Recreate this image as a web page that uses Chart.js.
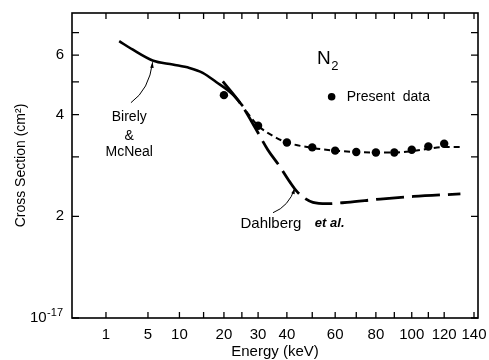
<!DOCTYPE html>
<html><head><meta charset="utf-8">
<script src="https://cdn.jsdelivr.net/npm/chart.js@4.4.0/dist/chart.umd.min.js"></script>
<style>html,body{margin:0;padding:0;background:#fff}</style>
</head><body>
<canvas id="c" width="489" height="360"></canvas>
<script>
// ---- data (energy in keV, cross section in units of 1e-17 cm^2) ----
const presentE = [20, 30, 40, 50, 60, 70, 80, 90, 100, 110, 120];
const presentV = [4.57, 3.71, 3.31, 3.20, 3.13, 3.10, 3.09, 3.09, 3.15, 3.22, 3.28];
const fitE = [26.3, 30, 35, 40, 50, 60, 70, 80, 90, 100, 110, 120, 130.7];
const fitV = [4.09, 3.71, 3.46, 3.31, 3.19, 3.13, 3.10, 3.09, 3.09, 3.12, 3.17, 3.21, 3.21];
const birelyE = [1.93, 3.17, 5.63, 8.78, 11.95, 14.8, 18.0, 22.4, 25.3];
const birelyV = [6.60, 6.24, 5.79, 5.63, 5.50, 5.32, 5.00, 4.59, 4.24];
const dahlbergE = [19.7, 25.2, 29.2, 33.2, 37.4, 41.1, 43.8, 47.0, 50.3, 56.3, 65.5, 82.3, 100.9, 130.7];
const dahlbergV = [5.02, 4.23, 3.64, 3.15, 2.81, 2.53, 2.37, 2.26, 2.20, 2.18, 2.20, 2.25, 2.29, 2.33];
const xTickValues = [1, 5, 10, 15, 20, 25, 30, 40, 50, 60, 70, 80, 90, 100, 110, 120, 140];
const xTickLabels = {1:'1', 5:'5', 10:'10', 20:'20', 30:'30', 40:'40', 60:'60', 80:'80', 100:'100', 120:'120', 140:'140'};
const yTickValues = [1, 2, 3, 4, 5, 6, 7];
const yTickLabels = {1:'', 2:'2', 4:'4', 6:'6'};
const xMaxE = 142.8;

const FONT = "'Liberation Sans', Arial, sans-serif";
const toPts = (E, V) => E.map((e, i) => ({x: Math.sqrt(e), y: V[i]}));

const framePlugin = {
  id: 'frame',
  afterDraw(chart) {
    const ctx = chart.ctx, a = chart.chartArea;
    const xs = chart.scales.x, ys = chart.scales.y;
    const P = (E, V) => [xs.getPixelForValue(Math.sqrt(E)), ys.getPixelForValue(V)];
    ctx.save();
    ctx.strokeStyle = '#000';
    ctx.lineWidth = 1.6;
    ctx.strokeRect(a.left, a.top, a.right - a.left, a.bottom - a.top);
    ctx.lineWidth = 1.3;
    ctx.beginPath();
    xTickValues.forEach(v => {
      const px = xs.getPixelForValue(Math.sqrt(v));
      ctx.moveTo(px, a.bottom); ctx.lineTo(px, a.bottom - 6);
      ctx.moveTo(px, a.top); ctx.lineTo(px, a.top + 6);
    });
    yTickValues.forEach(v => {
      const py = ys.getPixelForValue(v);
      ctx.moveTo(a.left, py); ctx.lineTo(a.left + 7, py);
      ctx.moveTo(a.right, py); ctx.lineTo(a.right - 7, py);
    });
    ctx.stroke();

    ctx.fillStyle = '#000';
    // 10^-17 label for the bottom y tick
    const y1 = ys.getPixelForValue(1);
    ctx.textBaseline = 'middle';
    ctx.textAlign = 'right';
    ctx.font = '11px ' + FONT;
    const supW = ctx.measureText('-17').width;
    ctx.fillText('-17', a.left - 9, y1 - 5);
    ctx.font = '15px ' + FONT;
    ctx.fillText('10', a.left - 9 - supW - 0.5, y1);

    // annotations
    ctx.textAlign = 'center';
    ctx.font = '14px ' + FONT;
    let p = P(2.84, 3.92); ctx.fillText('Birely', p[0], p[1]);
    p = P(2.84, 3.46); ctx.fillText('&', p[0], p[1]);
    p = P(2.84, 3.10); ctx.fillText('McNeal', p[0], p[1]);

    ctx.textAlign = 'left';
    ctx.font = '15px ' + FONT;
    p = P(24.6, 1.90); ctx.fillText('Dahlberg', p[0], p[1]);
    ctx.font = 'italic bold 13px ' + FONT;
    p = P(51.1, 1.90); ctx.fillText('et al.', p[0], p[1]);

    ctx.font = '19px ' + FONT;
    p = P(52.0, 5.87); ctx.fillText('N', p[0], p[1]);
    const nw = ctx.measureText('N').width;
    ctx.font = '13px ' + FONT;
    ctx.fillText('2', p[0] + nw + 0.5, p[1] + 8);

    ctx.font = '14px ' + FONT;
    p = P(65.4, 4.52); ctx.fillText('Present  data', p[0], p[1]);
    p = P(58.4, 4.52);
    ctx.beginPath(); ctx.arc(p[0], p[1], 3.8, 0, Math.PI * 2); ctx.fill();

    // arrows
    ctx.lineWidth = 1;
    const arrow = (s, c, t) => {
      const S = P(s[0], s[1]), C = P(c[0], c[1]), T = P(t[0], t[1]);
      ctx.beginPath(); ctx.moveTo(S[0], S[1]); ctx.quadraticCurveTo(C[0], C[1], T[0], T[1]); ctx.stroke();
      const ang = Math.atan2(T[1] - C[1], T[0] - C[0]);
      ctx.beginPath();
      ctx.moveTo(T[0], T[1]);
      ctx.lineTo(T[0] - 6 * Math.cos(ang - 0.3), T[1] - 6 * Math.sin(ang - 0.3));
      ctx.lineTo(T[0] - 6 * Math.cos(ang + 0.3), T[1] - 6 * Math.sin(ang + 0.3));
      ctx.closePath(); ctx.fill();
    };
    arrow([3.01, 4.34], [5.17, 4.75], [5.63, 5.72]);
    arrow([35.0, 2.05], [40.7, 2.14], [43.0, 2.42]);
    ctx.restore();
  }
};

new Chart(document.getElementById('c'), {
  type: 'line',
  data: {
    datasets: [
      { label: 'Birely & McNeal', data: toPts(birelyE, birelyV), borderColor: '#000', borderWidth: 2.6,
        pointRadius: 0, cubicInterpolationMode: 'monotone', fill: false },
      { label: 'Dahlberg et al.', data: toPts(dahlbergE, dahlbergV), borderColor: '#000', borderWidth: 2.8,
        borderDash: [28, 8], pointRadius: 0, cubicInterpolationMode: 'monotone', fill: false },
      { label: 'Fit', data: toPts(fitE, fitV), borderColor: '#000', borderWidth: 2,
        borderDash: [6, 4], pointRadius: 0, cubicInterpolationMode: 'monotone', fill: false },
      { label: 'Present data', data: toPts(presentE, presentV), showLine: false, pointRadius: 4.2,
        pointBackgroundColor: '#000', pointBorderColor: '#000', pointBorderWidth: 0 }
    ]
  },
  options: {
    responsive: false, animation: false, devicePixelRatio: 1,
    layout: { padding: { top: 13, right: 11, left: 0, bottom: 0 } },
    plugins: { legend: { display: false }, tooltip: { enabled: false } },
    scales: {
      x: {
        type: 'linear', min: 0, max: Math.sqrt(xMaxE),
        afterBuildTicks: s => { s.ticks = xTickValues.map(v => ({ value: Math.sqrt(v) })); },
        afterFit: s => { s.height = 42; s.paddingLeft = 0; s.paddingRight = 0; },
        grid: { display: false, drawTicks: false }, border: { display: false },
        ticks: { autoSkip: false, maxRotation: 0, padding: 8, color: '#000',
          font: { family: FONT, size: 15 },
          callback: v => xTickLabels[Math.round(v * v)] || '' },
        title: { display: true, text: 'Energy (keV)', color: '#000', font: { family: FONT, size: 15 }, padding: { top: 0, bottom: -1 } }
      },
      y: {
        type: 'logarithmic', min: 1, max: 8,
        afterBuildTicks: s => { s.ticks = yTickValues.map(v => ({ value: v })); },
        afterFit: s => { s.width = 72; s.paddingTop = 0; s.paddingBottom = 0; },
        grid: { display: false, drawTicks: false }, border: { display: false },
        ticks: { autoSkip: false, padding: 8, color: '#000', font: { family: FONT, size: 15 },
          callback: v => yTickLabels[Math.round(v)] || '' },
        title: { display: true, text: 'Cross Section (cm\u00B2)', color: '#000', font: { family: FONT, size: 14 }, padding: { top: 13, bottom: 0 } }
      }
    }
  },
  plugins: [framePlugin]
});
</script>
</body></html>
